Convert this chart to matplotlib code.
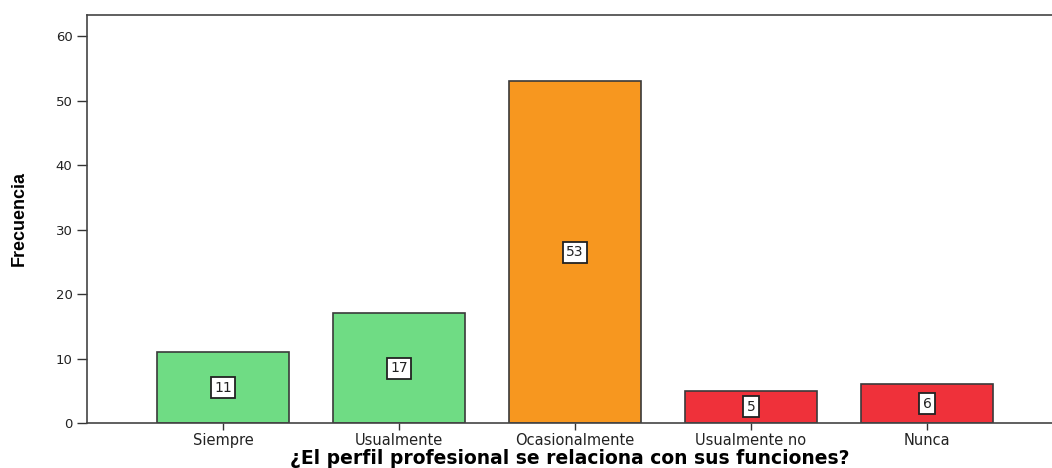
import matplotlib
matplotlib.use("Agg")
import matplotlib.pyplot as plt
import numpy as np

categories = ["Siempre", "Usualmente", "Ocasionalmente", "Usualmente no", "Nunca"]
counts = [11, 17, 53, 5, 6]
bar_colors = ["#6fdc84", "#6fdc84", "#f7971f", "#ef313a", "#ef313a"]

plt.rcParams['font.family'] = ['DejaVu Sans']

fig = plt.figure(figsize=(10.52, 4.68), dpi=100)
ax = fig.add_axes([87/1052, 1 - 423/468, 1 - 87/1052, (423 - 15)/468])

index = np.arange(len(categories))
bars = ax.bar(index, counts, width=0.75, color=bar_colors, edgecolor="#3a3a3a", linewidth=1.2, zorder=2)

# value labels in the middle of each bar
for rect, val in zip(bars, counts):
    ax.text(rect.get_x() + rect.get_width() / 2, val / 2, str(val),
            ha="center", va="center", fontsize=10, color="#222222",
            bbox=dict(boxstyle="square,pad=0.25", facecolor="white", edgecolor="#222222", linewidth=1.3))

ax.set_xlim(-0.773, 4.71)
ax.set_ylim(0, 63.3)
ax.set_yticks([0, 10, 20, 30, 40, 50, 60])
ax.set_xticks(index)
ax.set_xticklabels(categories)
ax.tick_params(axis="y", length=7, width=1, labelsize=9.5, color="#333333", labelcolor="#222222")
ax.tick_params(axis="x", length=5, width=1, labelsize=10.5, color="#333333", labelcolor="#222222", pad=2)

for side in ["left", "bottom", "top"]:
    ax.spines[side].set_color("#444444")
    ax.spines[side].set_linewidth(1.2)
ax.spines["right"].set_visible(False)

ax.set_ylabel("Frecuencia", fontsize=13, fontweight="bold",
              family=["Liberation Sans"], labelpad=20)
ax.set_xlabel("¿El perfil profesional se relaciona con sus funciones?", fontsize=13.5,
              fontweight="bold", labelpad=1)

plt.savefig("out.png", format="png")
